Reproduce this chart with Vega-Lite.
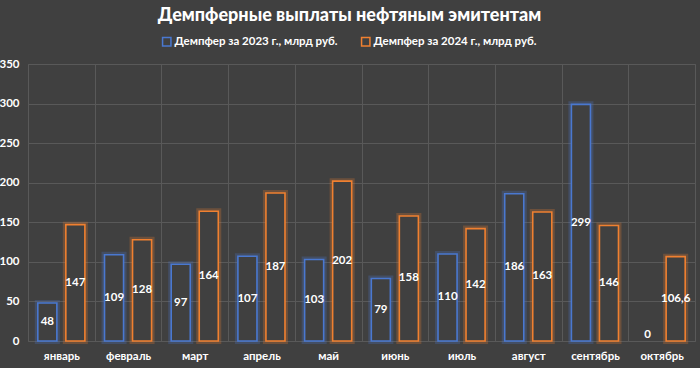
{
  "$schema": "https://vega.github.io/schema/vega-lite/v6.json",
  "width": 667,
  "height": 277,
  "autosize": {"type": "none"},
  "padding": {"left": 28, "top": 64, "right": 5, "bottom": 27},
  "background": "#404040",
  "config": {
    "view": {"stroke": "#595959", "strokeWidth": 1},
    "font": "Lato",
    "axis": {"labelFont": "Lato", "labelFontWeight": "bold", "labelColor": "#ffffff", "labelFontSize": 11.5, "domain": false, "ticks": false, "gridColor": "#595959", "gridWidth": 1, "title": null}
  },
  "title": {
    "text": "Демпферные выплаты нефтяным эмитентам",
    "color": "#ffffff",
    "font": "Lato",
    "fontWeight": 900,
    "fontSize": 18,
    "anchor": "middle",
    "dx": -12,
    "offset": 11
  },
  "data": {
    "values": [
      {"month": "январь", "series": "Демпфер за 2023 г., млрд руб.", "value": 48, "label": "48"},
      {"month": "февраль", "series": "Демпфер за 2023 г., млрд руб.", "value": 109, "label": "109"},
      {"month": "март", "series": "Демпфер за 2023 г., млрд руб.", "value": 97, "label": "97"},
      {"month": "апрель", "series": "Демпфер за 2023 г., млрд руб.", "value": 107, "label": "107"},
      {"month": "май", "series": "Демпфер за 2023 г., млрд руб.", "value": 103, "label": "103"},
      {"month": "июнь", "series": "Демпфер за 2023 г., млрд руб.", "value": 79, "label": "79"},
      {"month": "июль", "series": "Демпфер за 2023 г., млрд руб.", "value": 110, "label": "110"},
      {"month": "август", "series": "Демпфер за 2023 г., млрд руб.", "value": 186, "label": "186"},
      {"month": "сентябрь", "series": "Демпфер за 2023 г., млрд руб.", "value": 299, "label": "299"},
      {"month": "октябрь", "series": "Демпфер за 2023 г., млрд руб.", "value": 0, "label": "0"},
      {"month": "январь", "series": "Демпфер за 2024 г., млрд руб.", "value": 147, "label": "147"},
      {"month": "февраль", "series": "Демпфер за 2024 г., млрд руб.", "value": 128, "label": "128"},
      {"month": "март", "series": "Демпфер за 2024 г., млрд руб.", "value": 164, "label": "164"},
      {"month": "апрель", "series": "Демпфер за 2024 г., млрд руб.", "value": 187, "label": "187"},
      {"month": "май", "series": "Демпфер за 2024 г., млрд руб.", "value": 202, "label": "202"},
      {"month": "июнь", "series": "Демпфер за 2024 г., млрд руб.", "value": 158, "label": "158"},
      {"month": "июль", "series": "Демпфер за 2024 г., млрд руб.", "value": 142, "label": "142"},
      {"month": "август", "series": "Демпфер за 2024 г., млрд руб.", "value": 163, "label": "163"},
      {"month": "сентябрь", "series": "Демпфер за 2024 г., млрд руб.", "value": 146, "label": "146"},
      {"month": "октябрь", "series": "Демпфер за 2024 г., млрд руб.", "value": 106.6, "label": "106,6"}
    ]
  },
  "encoding": {
    "x": {
      "field": "month",
      "type": "nominal",
      "sort": null,
      "scale": {"paddingInner": 0, "paddingOuter": 0},
      "axis": {"labelAngle": 0, "grid": true, "tickBand": "extent", "labelPadding": 9}
    },
    "xOffset": {
      "field": "series",
      "type": "nominal",
      "scale": {"paddingInner": 0.32, "paddingOuter": 0.35}
    },
    "y": {
      "field": "value",
      "type": "quantitative",
      "scale": {"domain": [0, 350], "nice": false},
      "axis": {"values": [0, 50, 100, 150, 200, 250, 300, 350], "grid": true, "labelPadding": 9, "labelOverlap": false}
    }
  },
  "layer": [
    {
      "transform": [{"filter": "datum.value > 0"}],
      "mark": {"type": "bar", "fill": "#404040", "strokeWidth": 6, "strokeOpacity": 0.25},
      "encoding": {
        "stroke": {
          "field": "series",
          "type": "nominal",
          "scale": {"range": ["#4a78d0", "#F08030"]},
          "legend": {
            "title": null,
            "orient": "none",
            "direction": "horizontal",
            "legendX": 133,
            "legendY": -28,
            "symbolType": "square",
            "symbolSize": 70,
            "symbolStrokeWidth": 1.5,
            "symbolFillColor": "#404040",
            "symbolOpacity": 1,
            "labelColor": "#ffffff",
            "labelFont": "Lato",
            "labelFontWeight": "bold",
            "labelFontSize": 11.5,
            "labelOffset": 2,
            "columnPadding": 20,
            "labelLimit": 300
          }
        }
      }
    },
    {
      "transform": [{"filter": "datum.value > 0"}],
      "mark": {"type": "bar", "fill": "#404040", "strokeWidth": 1.6},
      "encoding": {
        "stroke": {"field": "series", "type": "nominal"}
      }
    },
    {
      "transform": [{"calculate": "max(datum.value / 2, 7)", "as": "mid"}],
      "mark": {"type": "text", "color": "#ffffff", "font": "Lato", "fontWeight": "bold", "fontSize": 11.5, "baseline": "middle"},
      "encoding": {
        "y": {"field": "mid", "type": "quantitative"},
        "text": {"field": "label"}
      }
    }
  ]
}
